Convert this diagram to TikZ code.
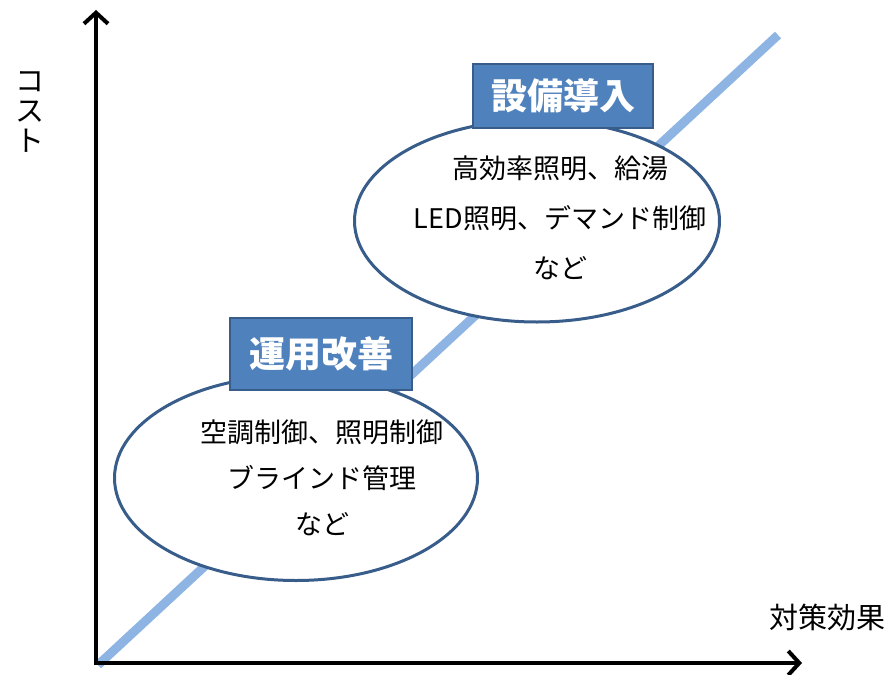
\documentclass[tikz,border=0pt]{standalone}
\usepackage{fontspec}
\setmainfont{Noto Sans CJK JP}
\newfontfamily\cjkbold[BoldFont={Noto Sans CJK JP Bold}]{Noto Sans CJK JP}
\usetikzlibrary{arrows.meta,shapes.geometric}
\definecolor{boxfill}{HTML}{4F81BD}
\definecolor{boxedge}{HTML}{385D8A}
\definecolor{diag}{HTML}{8EB4E3}
\tikzset{
  axis/.style={line width=4pt,-{Straight Barb[length=11pt,width=24pt]}},
  bubble/.style={ellipse,draw=boxedge,line width=3pt,fill=white,inner sep=0pt},
  tagbox/.style={rectangle,draw=boxedge,line width=2.5pt,fill=boxfill,text=white,inner sep=0pt,
    font=\fontsize{36}{40}\selectfont\bfseries},
  bubbletext/.style={align=center,inner sep=0pt},
  axislabel/.style={inner sep=0pt,font=\fontsize{29}{30}\selectfont}
}
\begin{document}
\begin{tikzpicture}[x=1pt,y=-1pt]
\useasboundingbox (0,0) rectangle (893,674);
% diagonal
\coordinate (d0) at (98,665);
\coordinate (d1) at (778,35);
\draw[diag,line width=9pt] (d0) -- (d1);
% axes
\coordinate (o) at (96,663);
\coordinate (ytip) at (96,10);
\coordinate (xtip) at (802,663);
\draw[axis] (o) -- (ytip);
\draw[axis] (o) -- (xtip);
\draw[line width=4pt] (96,665) -- (96,661);
% axis labels
\node[axislabel,align=center,font=\fontsize{29}{30}\selectfont] (ylab) at (30,112) {コ\\ス\\ト};
\node[axislabel] (xlab) at (827,617) {対策効果};
% upper ellipse
\node[bubble,minimum width=365pt,minimum height=202pt] (e1) at (537,221) {};
\node[bubbletext,font=\fontsize{27}{50}\selectfont] (t1) at (560,218) {高効率照明、給湯\\LED照明、デマンド制御\\など};
\node[tagbox,minimum width=180pt,minimum height=64pt] (b1) at (563,96) {設備導入};
% lower ellipse
\node[bubble,minimum width=363pt,minimum height=205pt] (e2) at (296,478) {};
\node[bubbletext,font=\fontsize{27}{46}\selectfont] (t2) at (322,478) {空調制御、照明制御\\ブラインド管理\\など};
\node[tagbox,minimum width=182pt,minimum height=72pt] (b2) at (321,354) {運用改善};
\end{tikzpicture}
\end{document}
